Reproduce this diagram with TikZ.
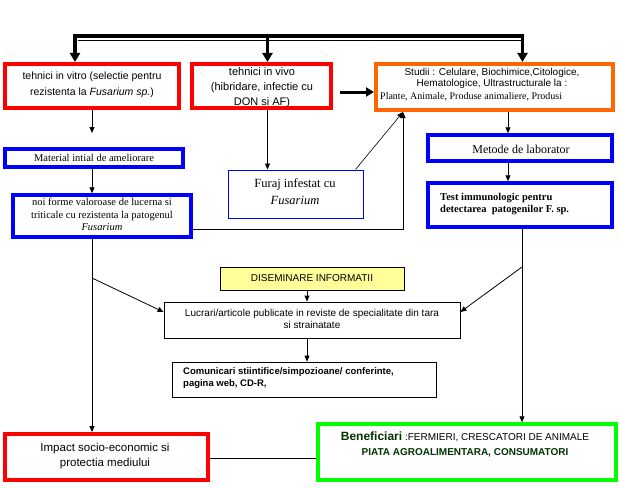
\documentclass[tikz,border=0pt]{standalone}
\usepackage{fontspec}
\setmainfont{Liberation Sans}
\newfontfamily\tms{Liberation Serif}
\usetikzlibrary{arrows.meta}
\definecolor{orng}{HTML}{FF6600}
\definecolor{dgreen}{HTML}{003300}
\definecolor{lyellow}{HTML}{FFFF99}
\definecolor{brightgreen}{HTML}{00FF00}
\begin{document}
\begin{tikzpicture}[x=1pt,y=-1pt,
  box/.style={rectangle, inner sep=0pt, draw},
  redbox/.style={box, draw=red, line width=4pt},
  bluebox/.style={box, draw=blue, line width=3.5pt},
  thinbox/.style={box, draw=black, line width=0.8pt},
  arr/.style={line width=0.8pt, -{Triangle[length=6pt,width=5pt]}},
  busarr/.style={line width=3.5pt, -{Triangle[length=9pt,width=10pt]}},
  bigarr/.style={line width=3pt, -{Triangle[length=8pt,width=9pt]}},
  txt/.style={inner sep=0pt, align=center}]
\useasboundingbox[fill=white] (0,0) rectangle (620,487);

% boxes
\node[redbox, minimum width=174pt, minimum height=44pt] (vitro) at (92,86) {};
\node[redbox, minimum width=139pt, minimum height=44pt] (vivo) at (261.5,86) {};
\node[box, draw=orng, line width=4pt, minimum width=237pt, minimum height=46pt] (studii) at (494.5,87) {};
\node[bluebox, minimum width=178pt, minimum height=18pt] (material) at (94,158) {};
\node[bluebox, minimum width=178pt, minimum height=42pt] (noi) at (102,216) {};
\node[box, draw=blue, line width=1pt, minimum width=135pt, minimum height=48pt] (furaj) at (295.5,194) {};
\node[bluebox, minimum width=184pt, minimum height=26pt] (metode) at (520,148) {};
\node[bluebox, minimum width=184pt, minimum height=44pt] (test) at (520,205) {};
\node[thinbox, fill=lyellow, minimum width=184pt, minimum height=23pt] (disem) at (312,278.5) {};
\node[thinbox, minimum width=296pt, minimum height=36pt] (lucrari) at (312,320) {};
\node[thinbox, minimum width=264pt, minimum height=35pt] (comunic) at (304,379.5) {};
\node[redbox, minimum width=203pt, minimum height=46pt] (impact) at (106.5,457) {};
\node[box, draw=brightgreen, line width=3.5pt, minimum width=298pt, minimum height=56pt] (benef) at (467,452) {};

% texts
\node[txt, font=\fontsize{10.5}{16}\selectfont] (tvitro) at (92,85) {tehnici in vitro (selectie pentru\\rezistenta la \textit{Fusarium sp.})};
\node[txt, font=\fontsize{11}{15}\selectfont] (tvivo) at (262,87.5) {tehnici in vivo\\(hibridare, infectie cu\\DON si AF)};
\node[txt, font=\fontsize{10}{11.5}\selectfont] (tstudii) at (492,78.5) {Studii : Celulare, Biochimice,Citologice,\\Hematologice, Ultrastructurale la :};
\node[inner sep=0pt, anchor=west, font=\tms\fontsize{10}{12}\selectfont] (tstudii2) at (380,97) {Plante, Animale, Produse animaliere, Produsi};
\node[txt, font=\tms\fontsize{10.5}{12}\selectfont] (tmaterial) at (94,158) {Material intial de ameliorare};
\node[txt, font=\tms\fontsize{10.5}{12.5}\selectfont] (tnoi) at (102,214.5) {noi forme valoroase de lucerna si\\triticale cu rezistenta la patogenul\\\textit{Fusarium}};
\node[txt, font=\tms\fontsize{12.5}{17}\selectfont] (tfuraj) at (295,191.5) {Furaj infestat cu\\\textit{Fusarium}};
\node[txt, font=\tms\fontsize{12}{14}\selectfont] (tmetode) at (521,149) {Metode de laborator};
\node[inner sep=0pt, anchor=west, align=left, font=\tms\bfseries\fontsize{10.5}{12}\selectfont] (ttest) at (440,204) {Test immunologic pentru\\detectarea\ \ patogenilor F. sp.};
\node[txt, font=\fontsize{10}{12}\selectfont] (tdisem) at (312,278.5) {DISEMINARE INFORMATII};
\node[txt, font=\fontsize{10}{12}\selectfont] (tlucrari) at (312,319) {Lucrari/articole publicate in reviste de specialitate din tara\\si strainatate};
\node[inner sep=0pt, anchor=west, align=left, font=\bfseries\fontsize{9.5}{12}\selectfont] (tcomunic) at (183,378) {Comunicari stiintifice/simpozioane/ conferinte,\\pagina web, CD-R,};
\node[txt, font=\fontsize{11.5}{15}\selectfont] (timpact) at (105,456) {Impact socio-economic si\\protectia mediului};
\node[txt, font=\fontsize{10}{15}\selectfont] (tbenef) at (465,444.5) {{\fontsize{12}{15}\selectfont\bfseries\color{dgreen}Beneficiari} :FERMIERI, CRESCATORI DE ANIMALE\\{\bfseries\color{dgreen}PIATA AGROALIMENTARA, CONSUMATORI}};

% top bus
\coordinate (bL) at (75,36);
\coordinate (bM) at (267.5,36);
\coordinate (bR) at (522.5,36);
\draw[line width=3.5pt] ([xshift=-1.75pt]bL) -- ([xshift=1.75pt]bR);
\draw[line width=0.8pt] (78,40.5) -- (520.5,40.5);
\draw[busarr] (bL) -- (bL |- vitro.north);
\draw[busarr] (bM) -- (bM |- vivo.north);
\draw[busarr] (bR) -- (bR |- studii.north);

% vivo -> studii
\coordinate (va) at (340,92);
\draw[bigarr] (va) -- (studii.west |- va);

% left column
\coordinate (m1) at (92,133);
\draw[arr] (vitro.south -| m1) -- (m1);
\draw[arr] (material.south -| m1) -- (noi.north -| m1);
\draw[arr] (noi.south -| m1) -- (impact.north -| m1);
\coordinate (d1) at (92,278);
\draw[arr] (d1) -- ([yshift=8pt]lucrari.west);

% noi -> studii
\coordinate (sx) at (403,0);
\draw[arr] ([yshift=-13pt]noi.east) -| (studii.south -| sx);
\draw[arr, line width=0.6pt] ([xshift=-8pt]furaj.north east) -- (studii.south -| sx);

% vivo -> furaj
\draw[arr] (vivo.south -| bM) -- (furaj.north -| bM);

% right column
\coordinate (rx) at (508,0);
\draw[arr] (studii.south -| rx) -- (metode.north -| rx);
\draw[arr] (metode.south -| rx) -- (test.north -| rx);
\coordinate (rx2) at (522,0);
\draw[arr] (test.south -| rx2) -- (benef.north -| rx2);
\coordinate (d2) at (522,267);
\draw[arr] (d2) -- ([yshift=8pt]lucrari.east);

% middle
\coordinate (cx) at (307,0);
\draw[arr] (disem.south -| cx) -- (lucrari.north -| cx);
\draw[arr] (lucrari.south -| cx) -- (comunic.north -| cx);

% bottom link
\draw[line width=0.8pt] ([yshift=-1pt]impact.east) -- (benef.west |- 0,458);
\end{tikzpicture}
\end{document}
